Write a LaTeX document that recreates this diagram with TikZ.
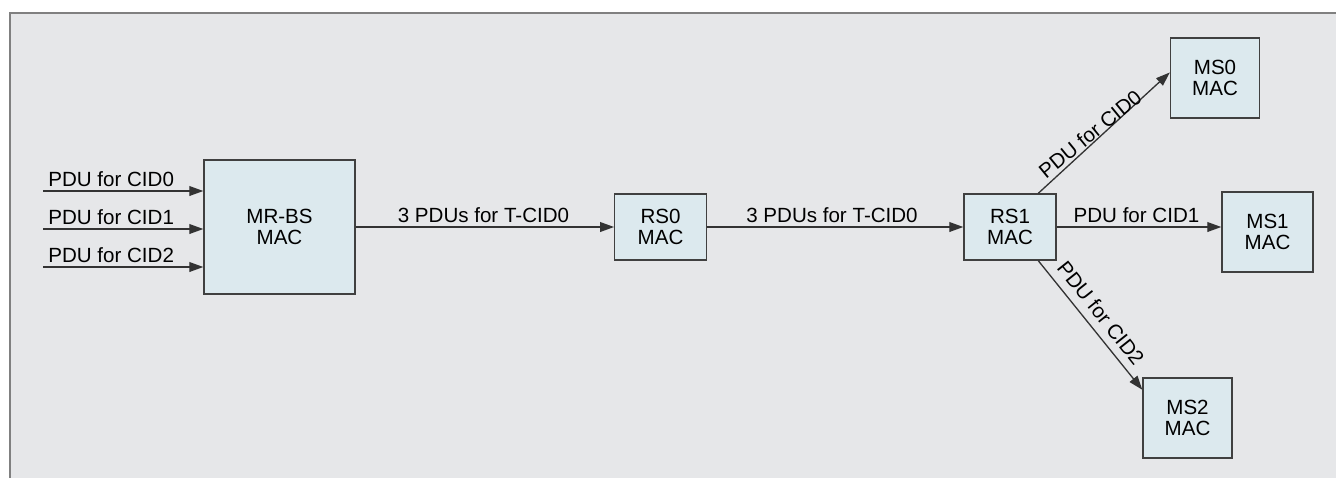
\documentclass[tikz,border=0pt]{standalone}
\usepackage{fontspec}
\setmainfont{Liberation Sans}
\usetikzlibrary{arrows.meta, positioning}
\definecolor{panel}{HTML}{E6E7E9}
\definecolor{macfill}{HTML}{DCE9EE}
\definecolor{framegray}{HTML}{808080}
\tikzset{>={Triangle[length=8pt,width=5.6pt]}}
\tikzset{
	mac/.style={draw=black!75, fill=macfill, line width=0.8pt, align=center, inner sep=0pt,
		font=\fontsize{11.7}{12.2}\selectfont},
	lbl/.style={inner sep=0pt, font=\fontsize{11.7}{12.2}\selectfont},
	link/.style={->, draw=black!80, line width=0.75pt}
}

\begin{document}
\begin{tikzpicture}[x=0.02cm, y=-0.02cm]

			\useasboundingbox (0,0) rectangle (1336,478);
			\fill[white] (0,0) rectangle (1336,478);
			\fill[panel] (10,13) rectangle (1336,478);
			\draw[framegray, line width=1.4pt] (10,478) -- (10,13) -- (1336,13);

			% stations
			\node[mac, minimum width=3.02cm, minimum height=2.68cm] (mrbs) at (279.5,227) {MR-BS\\MAC};
			\node[mac, minimum width=1.83cm, minimum height=1.32cm] (rs0) at (660.5,227) {RS0\\MAC};
			\node[mac, minimum width=1.84cm, minimum height=1.32cm] (rs1) at (1010,227) {RS1\\MAC};
			\node[mac, minimum width=1.78cm, minimum height=1.6cm] (ms0) at (1215,78) {MS0\\MAC};
			\node[mac, minimum width=1.82cm, minimum height=1.6cm] (ms1) at (1267.5,232) {MS1\\MAC};
			\node[mac, minimum width=1.78cm, minimum height=1.6cm] (ms2) at (1187.5,418) {MS2\\MAC};

			% incoming PDUs
			\foreach \i/\yy in {0/191,1/229,2/267} {
				\coordinate (in\i) at (43,\yy);
				\draw[link] (in\i) -- (in\i -| mrbs.west);
				\node[lbl, anchor=base west] (pdu\i) at (48,\yy-5) {PDU for CID\i};
			}

			\draw[link] (mrbs) -- (rs0);
			\draw[link] (rs0) -- (rs1);
			\draw[link] (rs1.50) -- (ms0.173);
			\draw[link] (rs1.east) -- (rs1.east -| ms1.west);
			\draw[link] (rs1.-50) -- (ms2.148);

			\node[lbl, anchor=base] (tcid0a) at (483.5,222) {3 PDUs for T-CID0};
			\node[lbl, anchor=base] (tcid0b) at (832,222) {3 PDUs for T-CID0};
			\node[lbl, rotate=39.3] (cid0) at (1090,134) {PDU for CID0};
			\node[lbl, anchor=base] (cid1) at (1136.5,222) {PDU for CID1};
			\node[lbl, rotate=-51.5] (cid2) at (1101,313) {PDU for CID2};

\end{tikzpicture}
\end{document}
